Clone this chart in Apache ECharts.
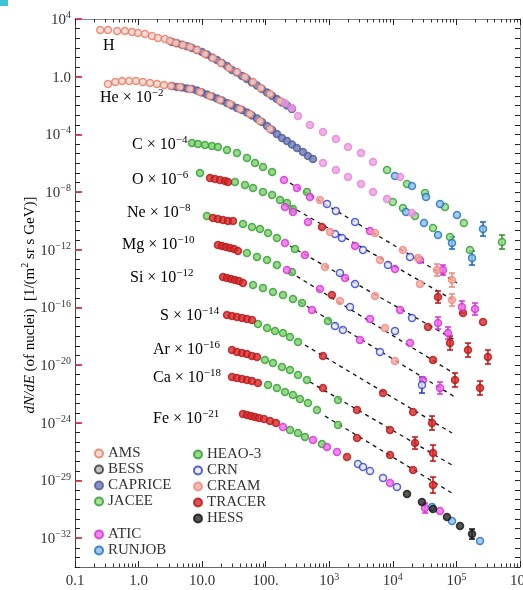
<!DOCTYPE html>
<html>
<head>
<meta charset="utf-8">
<title>Cosmic ray nuclei spectra</title>
<script src="https://cdn.jsdelivr.net/npm/echarts@6/dist/echarts.min.js"></script>
<style>
html,body{margin:0;padding:0;background:#ffffff;}
#chart{width:523px;height:590px;}
</style>
</head>
<body>
<div id="chart"></div>
<script>
// ---------- tick labels ----------
const yTickExp  = [4, 0, -4, -8, -12, -16, -20, -24, -28, -32];
const yTickText = ['10^4', '1.0', '10^-4', '10^-8', '10^-12', '10^-16', '10^-20', '10^-24', '10^-29', '10^-32'];
const xTickExp  = [-1, 0, 1, 2, 3, 4, 5, 6];
const xTickText = ['0.1', '1.0', '10.0', '100.', '10^3', '10^4', '10^5', '10^6'];
const xMinorMantissa = [2, 3, 4, 5, 6, 7, 8, 9];
const yMinorStep = 2 / 3;   // spacing of the small ticks on the left/right frame, in decades

// ---------- element labels ----------
const elementLabels = ['H', 'He × 10^-2', 'C × 10^-4', 'O × 10^-6', 'Ne × 10^-8', 'Mg × 10^-10',
  'Si × 10^-12', 'S × 10^-14', 'Ar × 10^-16', 'Ca × 10^-18', 'Fe × 10^-21'];

// ---------- data: [E (GeV), dN/dE scaled] ----------
const amsData = [
  [0.25,1.73e3],[0.33,1.73e3],[0.46,1.47e3],[0.61,1.47e3],[0.79,1.26e3],[0.98,1.07e3],[1.26,912],[1.63,662],
  [2.02,482],[2.60,410],[3.12,299],[3.87,217],[4.99,157],[6.44,115],[8.30,70.8],[11.1,37.4],[14.8,19.8],
  [19.8,8.89],[26.4,4.0],[35.3,2.11],[47.2,0.95],[63.1,0.428],[84.2,0.164],[117,0.063],[168,0.0206],
  [0.33,0.311],[0.43,0.428],[0.55,0.502],[0.71,0.502],[0.91,0.502],[1.17,0.428],[1.51,0.365],[1.95,0.311],
  [2.51,0.265],[3.24,0.226],[4.48,0.193],[6.44,0.140],[9.25,0.0867],[13.3,0.0457],[19.1,0.0242],[27.4,0.0128],
  [39.4,5.74e-3],[56.5,2.58e-3],[81.3,8.43e-4],[117,2.35e-4]
];
const bessData = [];
const capriceData = [
  [3.35,254],[4.02,207],[4.82,163],[5.77,130],[6.92,97.5],[8.30,70.8],[9.94,51.5],[11.9,34.5],[14.3,21.4],
  [17.1,14.4],[20.5,8.89],[24.6,5.51],[29.5,2.91],[35.3,1.95],[42.4,1.11],[50.7,0.69],[60.8,0.395],[72.9,0.245],
  [87.3,0.140],[105,0.080],[126,0.0457],[150,0.0283],[180,0.0162],[216,0.0100],[259,5.74e-3],
  [3.35,0.226],[4.02,0.193],[4.82,0.178],[5.77,0.151],[6.92,0.140],[8.30,0.110],[9.94,0.080],[11.9,0.0581],
  [14.3,0.0423],[17.1,0.0307],[20.5,0.0223],[24.6,0.0150],[29.5,0.0100],[35.3,6.73e-3],[42.4,4.89e-3],
  [50.7,3.28e-3],[60.8,2.03e-3],[72.9,1.26e-3],[87.3,7.19e-4],[105,3.80e-4],[126,2.00e-4],[150,1.06e-4],
  [180,5.58e-5],[216,3.46e-5],[259,1.98e-5],[310,1.13e-5],[386,5.97e-6],[462,3.16e-6],[554,1.95e-6]
];
const jaceeData = [
  [8.09e3,3.37e-7],[1.67e4,3.60e-8],[3.21e4,8.57e-9],[6.61e4,9.17e-10],[1.31e5,7.13e-11],[5.21e5,3.43e-12],
  [1.00e4,2.04e-9],[1.44e4,7.82e-10],[2.23e4,2.18e-10],[4.28e4,3.21e-11],[7.92e4,7.62e-12],[1.63e5,9.57e-13]
];
const aticData = [
  [194,6.82e-8],[310,1.90e-8],[497,4.52e-9],[4.37e3,1.99e-11],[2.67e4,1.94e-13],[6.14e4,3.92e-14],
  [201,9.17e-10],[268,4.13e-10],[462,8.36e-11],[2.54e3,1.81e-12],[1.08e4,4.60e-14],[1.22e5,1.06e-16],[1.96e5,7.74e-17],
  [201,2.92e-12],[414,4.30e-13],[1.77e3,1.09e-14],[1.30e4,6.59e-17],[5.13e4,8.27e-18],[7.36e4,1.67e-18],
  [216,3.92e-14],[713,1.89e-15],[4.37e3,1.57e-17],[1.86e4,3.39e-19],
  [535,6.59e-17],[3.04e3,5.47e-19],[2.98e4,9.22e-22],[5.51e4,2.57e-22],
  [187,5.07e-25],[554,6.37e-26],[920,2.08e-26],[1.32e3,9.38e-27],[9.02e3,6.64e-29],[3.21e4,1.22e-30],[5.51e4,7.58e-31]
];
const aticLightData = [
  [201,0.0150],[259,6.73e-3],[322,1.87e-3],[497,4.45e-4],[796,1.46e-4],[1.27e3,4.75e-5],[1.97e3,1.33e-5],
  [3.16e3,5.09e-6],[4.87e3,1.21e-6],[1.30e4,1.10e-7],
  [796,1.03e-6],[1.27e3,3.37e-7],[1.97e3,1.10e-7],[3.16e3,3.60e-8],[4.87e3,1.00e-8],[8.09e3,3.29e-9],[2.00e4,3.52e-10]
];
const runjobData = [
  [1.08e4,1.29e-7],[2.00e4,2.62e-8],[3.32e4,4.52e-9],[5.51e4,1.48e-9],[1.02e5,2.56e-10],[2.62e5,2.74e-11],
  [1.61e4,4.13e-10],[3.09e4,7.13e-11],[5.13e4,1.05e-11],[8.51e4,2.92e-12],[1.76e5,2.67e-13],
  [4.13e4,1.44e-30],[8.51e4,1.53e-31],[2.35e5,6.29e-33]
];
const heao3Data = [
  [6.92,2.51e-5],[8.60,2.14e-5],[11.1,1.83e-5],[14.3,1.56e-5],[17.7,1.33e-5],[24.6,8.22e-6],[35.3,5.09e-6],
  [50.7,2.29e-6],[67.8,1.03e-6],[90.6,5.44e-7],[126,2.45e-7],[446,1.00e-8],
  [9.25,2.09e-7],[32.8,4.95e-8],[47.2,3.07e-8],[63.1,1.90e-8],[90.6,1.00e-8],[126,6.22e-9],[168,2.80e-9],
  [216,1.74e-9],[268,6.67e-10],
  [11.9,2.18e-10],[43.9,6.08e-11],[60.8,3.77e-11],[81.3,2.74e-11],[109,1.44e-11],[150,6.50e-12],[288,1.12e-12],
  [50.7,5.92e-13],[72.9,3.13e-13],[105,1.94e-13],[150,8.71e-14],[259,2.85e-14],
  [63.1,3.57e-15],[90.6,2.21e-15],[130,1.17e-15],[187,7.24e-16],[268,3.82e-16],[372,2.02e-16],[953,1.14e-17],
  [75.5,7.05e-18],[105,3.72e-18],[140,2.30e-18],[187,1.67e-18],[241,8.85e-19],[322,3.98e-19],
  [97.3,2.25e-20],[130,1.39e-20],[180,7.34e-21],[241,4.55e-21],[322,2.05e-21],[446,9.22e-22],[1.37e3,3.78e-23],
  [109,4.15e-22],[150,2.57e-22],[201,1.36e-22],[268,8.40e-23],[346,4.44e-23],[462,2.34e-23],[640,7.66e-24],[1.37e3,6.98e-25],
  [241,3.14e-25],[322,1.95e-25],[414,1.03e-25],[767,3.36e-26]
];
const crnData = [
  [920,1.48e-9],[1.27e3,4.84e-10],[2.54e3,8.36e-11],[1.86e4,3.13e-13],
  [1.23e3,1.23e-11],[1.58e3,6.50e-12],[3.39e3,9.57e-13],[8.39e3,8.71e-14],
  [1.47e3,2.43e-14],[2.54e3,4.19e-15],[2.00e4,1.84e-17],
  [2.12e3,1.06e-16],[1.08e4,2.30e-18],
  [1.23e3,5.12e-18],[1.64e3,2.70e-18],[6.28e3,8.06e-20],[2.87e4,4.15e-22],
  [2.83e3,1.38e-27],[3.39e3,8.54e-28],[4.37e3,4.51e-28],[7.00e3,1.47e-28],[1.16e4,3.50e-29]
];
const creamData = [
  [713,2.80e-9],[5.24e3,1.44e-11],[1.44e4,9.57e-13],[2.49e4,2.67e-13],[4.94e4,3.92e-14],[8.51e4,7.94e-15],
  [1.03e3,1.69e-11],[6.28e3,1.94e-13],[2.67e4,4.19e-15],[8.51e4,3.26e-16],
  [855,6.33e-14],[5.24e3,6.17e-16],
  [1.47e3,2.78e-16],[7.52e3,3.72e-18],
  [1.08e4,1.91e-20]
];
const tracerData = [
  [13.3,9.40e-8],[15.9,8.00e-8],[19.1,6.82e-8],[22.9,5.82e-8],[25.5,4.95e-8],[767,3.77e-11],[5.13e4,5.26e-16],
  [1.27e5,4.08e-17],[2.62e5,9.71e-18],
  [14.8,1.58e-10],[17.7,1.35e-10],[21.3,1.15e-10],[25.5,9.8e-11],[30.6,9.8e-11],[3.57e4,4.37e-18],[7.92e4,3.39e-19],
  [1.52e5,1.11e-19],[3.13e5,3.63e-20],
  [17.7,2.12e-12],[20.5,1.81e-12],[23.7,1.54e-12],[27.4,1.32e-12],[31.7,1.12e-12],[36.6,8.15e-13],[1.10e3,7.24e-16],
  [4.28e4,2.25e-20],[9.49e4,9.22e-22],[2.35e5,2.57e-22],
  [21.3,1.28e-14],[24.6,1.09e-14],[28.4,9.31e-15],[32.8,7.94e-15],[37.9,6.77e-15],[43.9,4.92e-15],
  [24.6,2.97e-17],[29.5,2.53e-17],[35.3,2.16e-17],[42.4,1.84e-17],[50.7,1.57e-17],[60.8,1.34e-17],[796,4.26e-20],
  [7.00e3,1.16e-22],[2.08e4,5.57e-24],[4.13e4,9.60e-25],
  [29.5,1.11e-19],[35.3,8.06e-20],[42.4,6.87e-20],[50.7,5.86e-20],[60.8,4.26e-20],[72.9,3.63e-20],[796,2.57e-22],
  [2.73e3,7.66e-24],[9.02e3,3.14e-25],[2.23e4,3.94e-26],[4.28e4,7.99e-27],
  [29.5,1.49e-21],[35.3,1.27e-21],[42.4,1.08e-21],[50.7,9.22e-22],[60.8,7.86e-22],[75.5,5.71e-22],[2.73e3,8.77e-26],
  [9.02e3,5.80e-27],[2.08e4,5.29e-28],[4.28e4,4.82e-29],
  [43.9,4.05e-24],[50.7,3.44e-24],[58.6,2.94e-24],[67.8,2.51e-24],[78.3,2.14e-24],[94.0,1.82e-24],[117,1.32e-24],
  [145,9.60e-25],[1.90e3,4.22e-27]
];
const hessData = [[1.67e4,1.15e-29],[2.87e4,3.19e-30],[4.28e4,1.04e-30],[7.10e4,2.91e-31],[1.14e5,6.90e-32],[1.76e5,1.92e-32]];

// ---------- error bars: [E, low, high] ----------
const errRunjob = [[2.62e5,8.9e-12,8.4e-11],[8.51e4,1.12e-12,7.62e-12],[1.76e5,8.71e-14,8.15e-13]];
const errJacee  = [[5.21e5,1.12e-12,1.05e-11]];
const errCream  = [[4.94e4,1.50e-14,1.02e-13],[8.51e4,2.60e-15,2.43e-14],[8.51e4,1.25e-16,8.5e-16]];
const errAtic   = [[6.14e4,1.77e-14,8.71e-14],[1.22e5,4.08e-17,2.78e-16],[1.96e5,2.97e-17,2.02e-16],
  [5.13e4,3.17e-18,2.16e-17],[7.36e4,6.42e-19,4.37e-18],[5.51e4,9.86e-23,6.70e-22],[3.21e4,5.51e-31,2.72e-30]];
const errTracer = [[5.13e4,2.02e-16,1.37e-15],[7.92e4,1.11e-19,1.04e-18],[1.52e5,3.63e-20,3.39e-19],
  [3.13e5,1.19e-20,1.11e-19],[9.49e4,3.02e-22,2.82e-21],[2.35e5,8.40e-23,7.86e-22],[4.13e4,3.14e-25,2.94e-24],
  [2.23e4,1.51e-26,1.03e-25],[4.28e4,2.22e-27,2.87e-26],[4.28e4,1.34e-29,1.73e-28]];
const errCrn    = [[2.87e4,1.16e-22,1.49e-21]];
const errHess   = [[1.76e5,8.7e-33,4.29e-32]];

// ---------- power-law fits (dashed) ----------
const fitC  = [[241,4.22e-8],[1.02e5,4.92e-15]];
const fitO  = [[241,1.08e-9],[9.49e4,2.78e-16]];
const fitNe = [[241,1.81e-12],[9.49e4,5.47e-19]];
const fitMg = [[241,2.85e-14],[9.49e4,2.40e-21]];
const fitSi = [[346,2.37e-16],[9.49e4,6.10e-23]];
const fitS  = [[414,2.46e-19],[8.51e4,1.95e-25]];
const fitAr = [[497,6.70e-22],[8.51e4,1.18e-27]];
const fitCa = [[855,2.94e-24],[8.51e4,1.34e-29]];

// ---------- styling / layout ----------
const SERIF = "'Liberation Serif','Times New Roman',serif";
const TXT = '#333333';
const X_MIN = 0.1, X_MAX = 1e6, Y_MIN = 1e-34, Y_MAX = 1e4;

function toRich(t) {
  const i = t.indexOf('^');
  if (i < 0) return '{b|' + t + '}';
  return '{b|' + t.slice(0, i) + '}{s|' + t.slice(i + 1).replace('-', '\u2212') + '}';
}
function richSet(base, sup) {
  return {
    b: {fontFamily: SERIF, fontSize: base, color: TXT, lineHeight: base + 2, verticalAlign: 'bottom'},
    s: {fontFamily: SERIF, fontSize: sup, color: TXT, lineHeight: sup, verticalAlign: 'top'},
    i: {fontFamily: SERIF, fontSize: base, color: TXT, lineHeight: base + 2, verticalAlign: 'bottom', fontStyle: 'italic'}
  };
}
const AXRICH = richSet(15, 10);

function sc(name, data, fill, stroke) {
  return {type: 'scatter', name, data, symbol: 'circle', symbolSize: 7, clip: false, z: 3,
    itemStyle: {color: fill, borderColor: stroke, borderWidth: 1.5}};
}
function errSeries(name, data, color) {
  return {type: 'custom', name, data, z: 2, silent: true, clip: false,
    encode: {x: 0, y: [1, 2]},
    renderItem(params, api) {
      const p1 = api.coord([api.value(0), api.value(1)]);
      const p2 = api.coord([api.value(0), api.value(2)]);
      const w = 3, st = {stroke: color, lineWidth: 1.6};
      return {type: 'group', children: [
        {type: 'line', shape: {x1: p1[0], y1: p1[1], x2: p2[0], y2: p2[1]}, style: st},
        {type: 'line', shape: {x1: p1[0] - w, y1: p1[1], x2: p1[0] + w, y2: p1[1]}, style: st},
        {type: 'line', shape: {x1: p2[0] - w, y1: p2[1], x2: p2[0] + w, y2: p2[1]}, style: st}
      ]};
    }};
}
function fitSeries(data) {
  return {type: 'line', name: '_fit', data, symbol: 'none', z: 1, silent: true,
    lineStyle: {color: '#111', width: 1.3, type: [4, 4]}};
}

const series = [
  sc('HEAO-3', heao3Data, '#7bd168', '#2e9a2e'),
  sc('TRACER', tracerData, '#d8282a', '#b31515'),
  sc('ATIC', aticData, '#f26aec', '#cf2fcf'),
  sc('CRN', crnData, '#e6e8ff', '#2b3bd6'),
  sc('CREAM', creamData, '#f6a69e', '#ee8a82'),
  sc('JACEE', jaceeData, '#92dc82', '#2e9a2e'),
  sc('RUNJOB', runjobData, '#8abfea', '#1b6dc0'),
  sc('HESS', hessData, '#2a2a2a', '#111111'),
  sc('BESS', bessData, '#b5b5b5', '#333333'),
  sc('CAPRICE', capriceData, '#6a78b2', '#48579a'),
  sc('AMS', amsData, '#fbd5ca', '#e9765f'),
  sc('ATIC', aticLightData, '#ee9ce2', '#e186d5'),
  errSeries('RUNJOB', errRunjob, '#1b6dc0'),
  errSeries('JACEE', errJacee, '#2e9a2e'),
  errSeries('CREAM', errCream, '#ee8a82'),
  errSeries('ATIC', errAtic, '#d83ad8'),
  errSeries('TRACER', errTracer, '#c41b1b'),
  errSeries('CRN', errCrn, '#2b3bd6'),
  errSeries('HESS', errHess, '#111111'),
  fitSeries(fitC), fitSeries(fitO), fitSeries(fitNe), fitSeries(fitMg),
  fitSeries(fitSi), fitSeries(fitS), fitSeries(fitAr), fitSeries(fitCa)
];

// ---------- text annotations ----------
const labelLayout = [[103,45],[100,97],[132,144],[132,179],[127,212],[122,244],[130,277],[160,315],[153,349],[153,377],[153,418]];
const graphics = elementLabels.map((t, i) => ({
  type: 'text', x: labelLayout[i][0], y: labelLayout[i][1], z: 100,
  style: {text: toRich(t), rich: richSet(16, 11), align: 'left', verticalAlign: 'middle'}
}));
graphics.push({type: 'text', x: 29, y: 305, rotation: Math.PI / 2, z: 100,
  style: {text: '{i|dN/dE}{b| (of nuclei)  [1/(m}{s|2}{b| sr s GeV)]}', rich: richSet(15, 10),
    align: 'center', verticalAlign: 'middle'}});
graphics.push({type: 'rect', x: 0, y: 0, z: 100, shape: {width: 8, height: 6}, style: {fill: '#3cc4d4'}});

function yFmt(v) {
  const e = Math.round(Math.log10(v));
  const i = yTickExp.indexOf(e);
  return i < 0 ? '' : toRich(yTickText[i]);
}
function xFmt(v) {
  const e = Math.round(Math.log10(v));
  const i = xTickExp.indexOf(e);
  return i < 0 ? '' : toRich(xTickText[i]);
}

// ---------- frame ticks: helper axes in decade (exponent) units ----------
const xMinorExp = [];
for (let k = -1; k < 6; k++) for (const m of xMinorMantissa) xMinorExp.push(k + Math.log10(m));
const yMinorExp = [];
for (let i = 0; i * yMinorStep <= 38.0001; i++) yMinorExp.push(-34 + i * yMinorStep);

function helperX(position, len, values) {
  return {type: 'value', min: -1, max: 6, position,
    axisLine: {show: false, onZero: false},
    axisTick: {show: true, inside: true, length: len, customValues: values, lineStyle: {color: '#333', width: 1}},
    axisLabel: {show: false}, splitLine: {show: false}, axisPointer: {show: false}};
}
function helperY(position, len, values, interval, color, width) {
  return {type: 'value', min: -34, max: 4, interval, position,
    axisLine: {show: false, onZero: false},
    axisTick: {show: true, inside: true, length: len, customValues: values, lineStyle: {color, width}},
    axisLabel: {show: false}, splitLine: {show: false}, axisPointer: {show: false}};
}

const legendBase = {orient: 'vertical', itemWidth: 8, itemHeight: 8, itemGap: 1, padding: 0,
  icon: 'circle', selectedMode: false,
  textStyle: {fontFamily: SERIF, fontSize: 15, color: TXT, padding: [0, 0, 0, 0]}};

const option = {
  animation: false,
  backgroundColor: '#ffffff',
  grid: {left: 75, right: 3, top: 19, bottom: 23, containLabel: false, outerBoundsMode: 'none'},
  legend: [
    Object.assign({}, legendBase, {data: ['AMS', 'BESS', 'CAPRICE', 'JACEE'], left: 94, top: 446}),
    Object.assign({}, legendBase, {data: ['ATIC', 'RUNJOB'], left: 94, top: 527}),
    Object.assign({}, legendBase, {data: ['HEAO-3', 'CRN', 'CREAM', 'TRACER', 'HESS'], left: 193, top: 447})
  ],
  xAxis: [
    {type: 'log', min: X_MIN, max: X_MAX, interval: 1, position: 'bottom',
      axisLine: {onZero: false, lineStyle: {color: '#666', width: 1}},
      axisTick: {show: true, inside: true, length: 6, lineStyle: {color: '#222', width: 1}},
      axisLabel: {formatter: xFmt, rich: AXRICH, margin: 5, color: TXT, fontFamily: SERIF, fontSize: 15},
      splitLine: {show: false}},
    {type: 'log', min: X_MIN, max: X_MAX, interval: 1, position: 'top',
      axisLine: {onZero: false, lineStyle: {color: '#888', width: 1}},
      axisTick: {show: true, inside: true, length: 6, lineStyle: {color: '#222', width: 1}},
      axisLabel: {show: false}, splitLine: {show: false}},
    helperX('bottom', 3.5, xMinorExp),
    helperX('top', 3.5, xMinorExp)
  ],
  yAxis: [
    {type: 'log', min: Y_MIN, max: Y_MAX, interval: 2, position: 'left',
      axisLine: {onZero: false, lineStyle: {color: '#444', width: 1}},
      axisTick: {show: false},
      axisLabel: {formatter: yFmt, rich: AXRICH, margin: 4, color: TXT, fontFamily: SERIF, fontSize: 15},
      splitLine: {show: false}},
    {type: 'log', min: Y_MIN, max: Y_MAX, interval: 2, position: 'right',
      axisLine: {show: true, onZero: false, lineStyle: {color: '#888', width: 1}},
      axisTick: {show: false}, axisLabel: {show: false}, splitLine: {show: false}},
    helperY('left', 5, yMinorExp, 2 / 3, '#222', 1),
    helperY('right', 5, yMinorExp, 2 / 3, '#222', 1),
    helperY('left', 7, yTickExp, 2, '#d23a4c', 1.8)
  ],
  graphic: graphics,
  series
};

const chart = echarts.init(document.getElementById('chart'), null, {renderer: 'canvas'});
chart.setOption(option);
</script>
</body>
</html>
